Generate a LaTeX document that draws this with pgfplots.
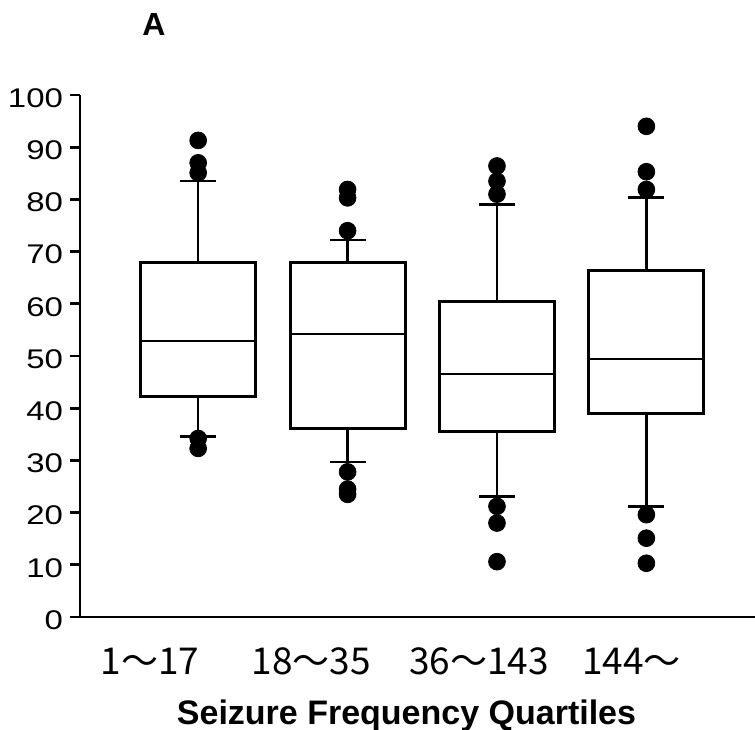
\documentclass[border=0pt]{standalone}
\usepackage{fontspec}
\setmainfont{Liberation Sans}
\newfontfamily\cjk{Noto Sans CJK JP}
\newfontfamily\tickfont[FakeStretch=1.22]{Liberation Sans}
\usepackage{pgfplots}
\pgfplotsset{compat=1.18}
\usepgfplotslibrary{statistics}
\usetikzlibrary{calc}

\begin{document}
\begin{tikzpicture}
\begin{axis}[
  name=ax, at={(0,0)}, anchor=south west,
  width=337.5pt, height=261pt, scale only axis,
  xmin=0.209, xmax=4.727, ymin=0, ymax=100,
  axis x line*=bottom, axis y line*=left,
  axis line style={line width=1.4pt, black},
  ytick={0,10,...,100},
  xtick={0.677,1.758,2.88,3.90},
  xticklabels={1〜17,18〜35,36〜143,144〜},
  x tick style={draw=none},
  y tick style={line width=1.4pt, black},
  tick align=outside, major tick length=5pt,
  /pgf/number format/assume math mode=true,
  yticklabel style={font=\tickfont\fontsize{13.5}{15}\selectfont, yshift=-1.5pt},
  xticklabel style={font=\cjk\fontsize{18.5}{22}\selectfont, anchor=base, yshift=-23.75pt},
  clip=false,
  boxplot/draw direction=y,
  boxplot/box extend=0.77,
  boxplot/whisker extend=0.24,
  boxplot/every box/.style={line width=1.5pt},
  boxplot/every whisker/.style={line width=1.2pt},
  boxplot/every median/.style={line width=1.1pt},
]
  \addplot[black, solid, mark=*, mark size=4.2pt, mark options={fill=black},
    boxplot prepared={draw position=1, lower whisker=34.6, lower quartile=42.3,
      median=52.8, upper quartile=67.9, upper whisker=83.5}]
    table[row sep=\\, y index=0] {y\\ 91.3\\ 87\\ 85.1\\ 34.2\\ 32.3\\};
  \addplot[black, solid, mark=*, mark size=4.2pt, mark options={fill=black},
    boxplot prepared={draw position=2, lower whisker=29.7, lower quartile=36.1,
      median=54.2, upper quartile=67.9, upper whisker=72.2}]
    table[row sep=\\, y index=0] {y\\ 81.9\\ 80.3\\ 74\\ 27.8\\ 24.5\\ 23.5\\};
  \addplot[black, solid, mark=*, mark size=4.2pt, mark options={fill=black},
    boxplot prepared={draw position=3, lower whisker=23.1, lower quartile=35.5,
      median=46.5, upper quartile=60.5, upper whisker=79}]
    table[row sep=\\, y index=0] {y\\ 86.4\\ 83.5\\ 81\\ 21.2\\ 18\\ 10.6\\};
  \addplot[black, solid, mark=*, mark size=4.2pt, mark options={fill=black},
    boxplot prepared={draw position=4, lower whisker=21.2, lower quartile=39,
      median=49.5, upper quartile=66.3, upper whisker=80.4}]
    table[row sep=\\, y index=0] {y\\ 94\\ 85.3\\ 81.9\\ 19.6\\ 15.1\\ 10.3\\};
\end{axis}
\node[font=\bfseries\fontsize{16}{18}\selectfont] at (37pt,296.5pt) {A};
\node[font=\bfseries\fontsize{17}{20}\selectfont, anchor=base] at (163.25pt,-53.5pt)
  {Seizure Frequency Quartiles};
\pgfresetboundingbox
\useasboundingbox (-40pt,-56pt) rectangle (337.5pt,308.5pt);
\end{tikzpicture}
\end{document}
